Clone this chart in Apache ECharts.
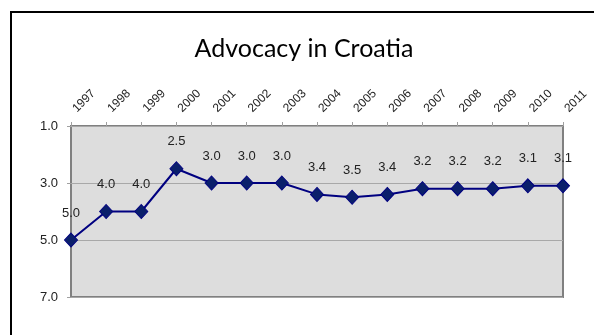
<!DOCTYPE html>
<html>
<head>
<meta charset="utf-8">
<script src="https://cdn.jsdelivr.net/npm/echarts@6/dist/echarts.min.js"></script>
<style>
  html, body { margin: 0; padding: 0; background: #ffffff; }
  #chart { width: 594px; height: 335px; }
</style>
</head>
<body>
<div id="chart"></div>
<script>
// Advocacy scores for Croatia, 1997-2011 (lower is better, axis inverted)
const years = ['1997', '1998', '1999', '2000', '2001', '2002', '2003', '2004',
               '2005', '2006', '2007', '2008', '2009', '2010', '2011'];
const advocacy = [5.0, 4.0, 4.0, 2.5, 3.0, 3.0, 3.0, 3.4, 3.5, 3.4, 3.2, 3.2, 3.2, 3.1, 3.1];
const yTicks = [1.0, 3.0, 5.0, 7.0];

const chart = echarts.init(document.getElementById('chart'), null, { renderer: 'canvas' });

chart.setOption({
  animation: false,
  backgroundColor: '#ffffff',
  title: {
    text: 'Advocacy in Croatia',
    left: 299,
    top: 31,
    textAlign: 'center',
    textStyle: { fontFamily: 'Lato', fontWeight: 'normal', fontSize: 25, color: '#000000' }
  },
  graphic: [{
    type: 'rect',
    shape: { x: 11, y: 12, width: 620, height: 360 },
    style: { fill: 'none', stroke: '#000000', lineWidth: 2 },
    silent: true,
    z: 0
  }],
  grid: {
    left: 71, top: 126, right: 31, bottom: 38,
    show: true,
    backgroundColor: '#dddddd',
    borderColor: '#808080',
    borderWidth: 2
  },
  xAxis: {
    type: 'category',
    data: years,
    position: 'top',
    boundaryGap: false,
    axisLine: { show: false },
    axisTick: { show: true, length: 4, inside: false, lineStyle: { color: '#a0a0a0', width: 1 } },
    axisLabel: {
      rotate: -45,
      margin: 12,
      padding: [0, 0, 0, 5],
      fontFamily: 'Arial, Liberation Sans, sans-serif',
      fontSize: 12,
      color: '#222222'
    },
    splitLine: { show: false }
  },
  yAxis: {
    type: 'value',
    inverse: true,
    min: 1,
    max: 7,
    interval: 2,
    axisLine: { show: false },
    axisTick: { show: true, length: 4, lineStyle: { color: '#a0a0a0', width: 1 } },
    axisLabel: {
      margin: 13,
      fontFamily: 'Arial, Liberation Sans, sans-serif',
      fontSize: 13,
      color: '#222222',
      formatter: v => (yTicks.includes(v) ? v.toFixed(1) : '')
    },
    splitLine: { show: true, lineStyle: { color: '#a8a8a8', width: 1 } }
  },
  series: [{
    type: 'line',
    data: advocacy,
    symbol: 'diamond',
    symbolSize: [13, 14],
    lineStyle: { color: '#000080', width: 2 },
    itemStyle: { color: '#0a1f6b', borderColor: '#000080', borderWidth: 1 },
    label: {
      show: true,
      position: 'top',
      distance: 13,
      formatter: p => p.value.toFixed(1),
      fontFamily: 'Arial, Liberation Sans, sans-serif',
      fontSize: 13,
      color: '#222222'
    },
    z: 5
  }]
});
</script>
</body>
</html>
